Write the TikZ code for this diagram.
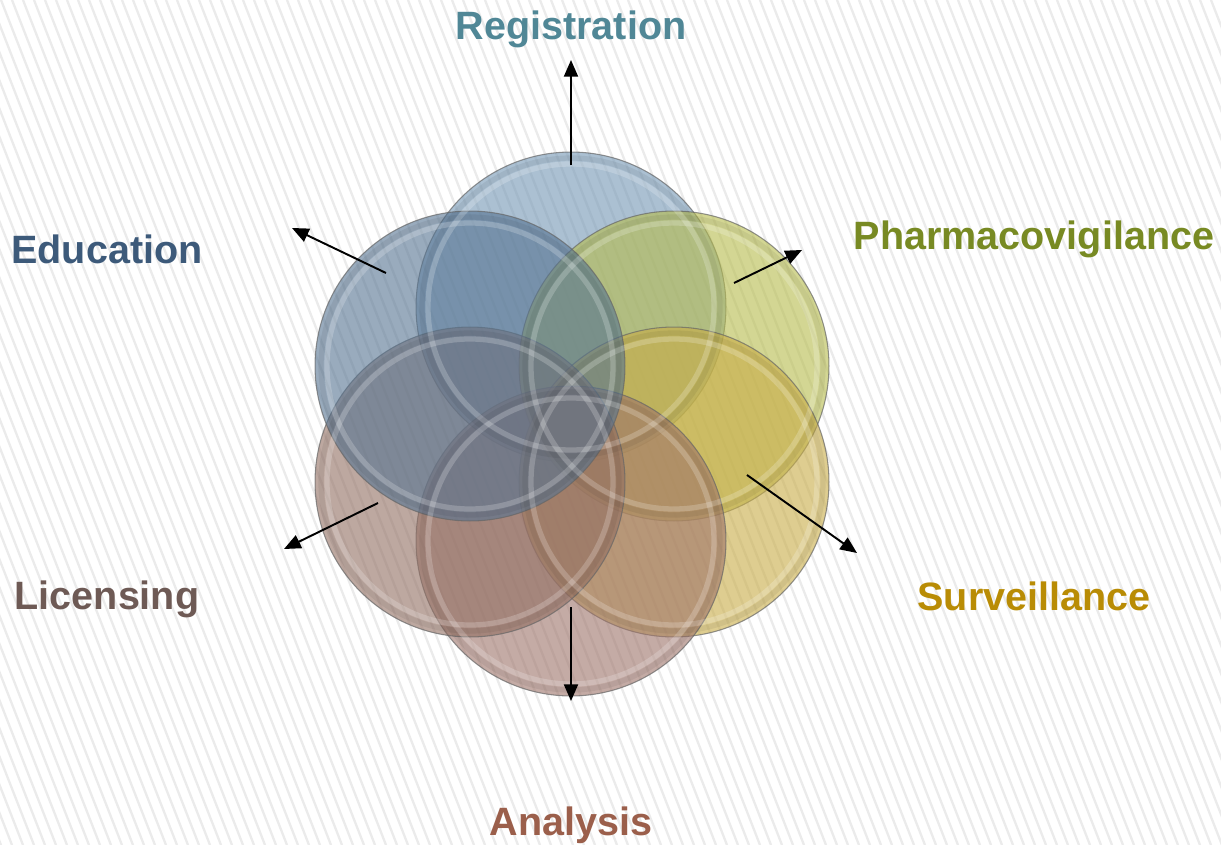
\documentclass[tikz,border=0pt]{standalone}
\usepackage{xcolor}
\usepackage{fontspec}
\setmainfont{Liberation Sans}
\usetikzlibrary{arrows.meta}

\definecolor{regtext}{RGB}{80,135,150}
\definecolor{edutext}{RGB}{61,90,122}
\definecolor{pharmtext}{RGB}{120,138,35}
\definecolor{survtext}{RGB}{185,140,5}
\definecolor{lictext}{RGB}{110,90,85}
\definecolor{analtext}{RGB}{155,95,75}

\definecolor{regfill}{RGB}{115,150,180}
\definecolor{pharmfill}{RGB}{182,188,75}
\definecolor{survfill}{RGB}{200,172,70}
\definecolor{analfill}{RGB}{158,115,105}
\definecolor{licfill}{RGB}{145,110,98}
\definecolor{edufill}{RGB}{85,115,145}

\tikzset{
	disc/.style={circle, minimum size=6.2cm, inner sep=0pt, draw=black!60, line width=0.6pt,
		fill opacity=0.6, draw opacity=0.7},
	glare/.style={white, line width=3pt, opacity=0.2},
	rim/.style={black, line width=3pt, opacity=0.06},
	pointer/.style={-{Triangle[length=9.5pt,width=8pt]}, line width=1.1pt, black},
	caption/.style={font=\bfseries\fontsize{22.5}{27}\selectfont, anchor=base, inner sep=0pt},
	stripe/.style={black!8, line width=1.3pt}
}

\begin{document}
\begin{tikzpicture}[x=0.02cm,y=-0.02cm]
	\useasboundingbox (0,0) rectangle (1221,845);
	% background
	\fill[white] (0,0) rectangle (1221,845);
	\begin{scope}
		\clip (0,0) rectangle (1221,845);
		\foreach \s in {-340,-329,...,1230}
			\draw[stripe] (\s,0) -- ++(330,845);
	\end{scope}

	% discs
	\node[disc, fill=regfill] (reg) at (571,307) {};
	\node[disc, fill=pharmfill] (pharm) at (674,366) {};
	\node[disc, fill=survfill] (surv) at (674,482) {};
	\node[disc, fill=analfill] (anal) at (571,541) {};
	\node[disc, fill=licfill] (lic) at (470,482) {};
	\node[disc, fill=edufill] (edu) at (470,366) {};
	\foreach \d in {reg,pharm,surv,anal,lic,edu} {
		\draw[rim] (\d.center) circle (149);
		\draw[glare] (\d.center) circle (143);
	}

	% arrows
	\coordinate (regfrom) at (571,165);
	\coordinate (regto) at (571,60);
	\coordinate (edufrom) at (386,273);
	\coordinate (eduto) at (292,228);
	\coordinate (pharmfrom) at (734,283);
	\coordinate (pharmto) at (802,250);
	\coordinate (survfrom) at (747,475);
	\coordinate (survto) at (857,553);
	\coordinate (licfrom) at (378,503);
	\coordinate (licto) at (284,549);
	\coordinate (analfrom) at (571,607);
	\coordinate (analto) at (571,701);
	\draw[pointer] (regfrom) -- (regto);
	\draw[pointer] (edufrom) -- (eduto);
	\draw[pointer] (pharmfrom) -- (pharmto);
	\draw[pointer] (survfrom) -- (survto);
	\draw[pointer] (licfrom) -- (licto);
	\draw[pointer] (analfrom) -- (analto);

	% labels
	\node[caption, text=regtext] (reglabel) at (571,39) {Registration};
	\node[caption, text=edutext] (edulabel) at (107,263) {Education};
	\node[caption, text=pharmtext] (pharmlabel) at (1034,249) {Pharmacovigilance};
	\node[caption, text=survtext] (survlabel) at (1034,610) {Surveillance};
	\node[caption, text=lictext] (liclabel) at (107,609) {Licensing};
	\node[caption, text=analtext] (anallabel) at (571,835) {Analysis};
\end{tikzpicture}
\end{document}
